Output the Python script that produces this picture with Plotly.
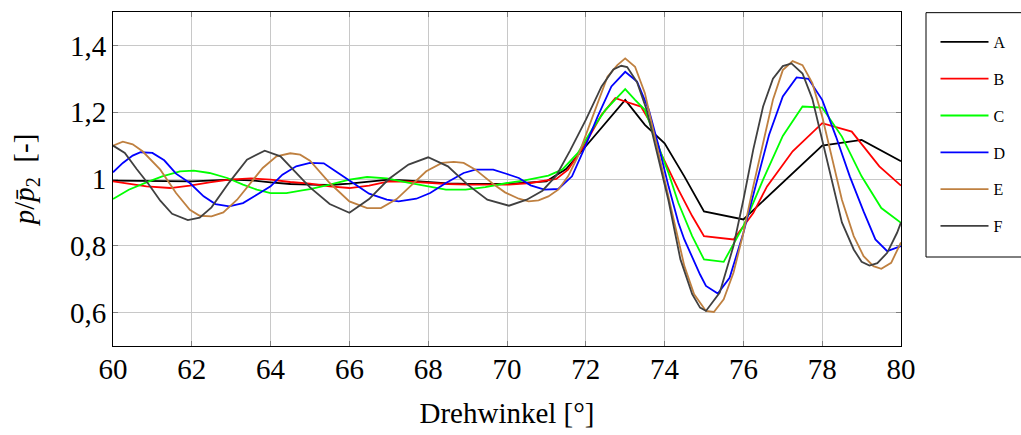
import plotly.graph_objects as go

# ---- data ----
x_A = [60.0, 61.0, 62.0, 63.0, 63.5, 64.0, 64.5, 65.0, 65.5, 66.0, 66.5, 67.0, 67.5, 68.0, 68.5, 69.0, 69.5, 70.0,
       71.0, 71.5, 72.0, 72.5, 73.0, 73.5, 74.0, 74.5, 75.0, 76.0, 78.0, 79.0, 80.0]
y_A = [0.995, 0.994, 0.993, 0.998, 0.996, 0.990, 0.985, 0.983, 0.982, 0.986, 0.993, 0.998, 0.995, 0.990, 0.987, 0.985, 0.986, 0.985,
       0.993, 1.030, 1.098, 1.167, 1.237, 1.162, 1.107, 1.008, 0.903, 0.879, 1.100, 1.117, 1.053]

x_B = [60.0, 60.4, 60.85, 61.45, 61.95, 62.45, 62.95, 63.5, 64.0, 64.5, 65.0, 65.5, 66.0, 66.5, 67.0, 67.5, 68.0, 68.5,
       69.05, 69.55, 70.05, 70.6, 71.25, 71.55, 71.95, 72.4, 72.75, 73.0, 73.4, 73.65, 73.9, 74.35, 74.7, 75.0,
       75.75, 76.25, 76.6, 77.25, 78.0, 78.75, 79.45, 80.0]
y_B = [0.993, 0.985, 0.978, 0.973, 0.980, 0.990, 0.998, 1.002, 0.998, 0.991, 0.986, 0.978, 0.973, 0.980, 0.993, 0.992, 0.988, 0.985,
       0.983, 0.982, 0.983, 0.988, 1.000, 1.028, 1.098, 1.192, 1.242, 1.232, 1.217, 1.167, 1.078, 0.968, 0.889, 0.829,
       0.819, 0.898, 0.978, 1.083, 1.167, 1.142, 1.038, 0.980]

x_C = [60.0, 60.4, 60.85, 61.25, 61.7, 62.05, 62.45, 62.9, 63.3, 63.65, 64.0, 64.4, 64.8, 65.0, 65.5, 66.0, 66.45, 66.95,
       67.45, 67.95, 68.45, 68.95, 69.45, 70.0, 70.45, 71.05, 71.4, 71.8, 72.15, 72.5, 72.75, 73.0, 73.25, 73.5,
       73.75, 74.1, 74.35, 74.7, 75.0, 75.5, 76.0, 76.5, 77.0, 77.5, 78.0, 78.5, 79.0, 79.5, 80.0]
y_C = [0.940, 0.968, 0.990, 1.008, 1.023, 1.025, 1.018, 1.003, 0.983, 0.968, 0.958, 0.958, 0.966, 0.970, 0.983, 0.998, 1.006, 1.002,
       0.990, 0.978, 0.968, 0.968, 0.976, 0.988, 0.996, 1.010, 1.028, 1.078, 1.147, 1.207, 1.237, 1.269, 1.237, 1.207,
       1.127, 1.018, 0.928, 0.829, 0.759, 0.752, 0.859, 0.998, 1.129, 1.217, 1.214, 1.127, 1.008, 0.913, 0.869]

x_D = [60.0, 60.25, 60.5, 60.7, 61.0, 61.3, 61.6, 61.95, 62.3, 62.6, 62.95, 63.3, 63.65, 64.0, 64.3, 64.65, 65.0, 65.35,
       65.65, 66.1, 66.5, 66.95, 67.25, 67.7, 68.05, 68.45, 68.9, 69.2, 69.65, 70.0, 70.3, 70.6, 70.95, 71.3, 71.65,
       71.95, 72.3, 72.65, 73.0, 73.3, 73.6, 73.85, 74.1, 74.35, 74.5, 74.9, 75.05, 75.35, 75.65, 76.0, 76.35, 76.65,
       77.0, 77.35, 77.65, 78.0, 78.35, 78.7, 79.05, 79.35, 79.65, 80.0]
y_D = [1.020, 1.048, 1.070, 1.080, 1.078, 1.056, 1.016, 0.988, 0.948, 0.925, 0.918, 0.928, 0.953, 0.978, 1.013, 1.038, 1.048, 1.047,
       1.023, 0.988, 0.956, 0.938, 0.933, 0.941, 0.958, 0.988, 1.018, 1.028, 1.028, 1.015, 1.003, 0.981, 0.968, 0.970, 1.008,
       1.088, 1.187, 1.277, 1.321, 1.292, 1.207, 1.098, 0.978, 0.869, 0.819, 0.714, 0.680, 0.657, 0.704, 0.839, 0.998, 1.132,
       1.247, 1.304, 1.300, 1.237, 1.127, 1.008, 0.903, 0.819, 0.784, 0.799]

x_E = [60.0, 60.25, 60.5, 60.75, 61.2, 61.6, 61.95, 62.2, 62.5, 62.8, 63.15, 63.5, 63.8, 64.15, 64.5, 64.75, 65.0, 65.5,
       66.0, 66.45, 66.8, 67.2, 67.55, 67.95, 68.35, 68.65, 68.9, 69.2, 69.65, 69.95, 70.3, 70.55, 70.8, 71.05, 71.3,
       71.55, 71.8, 72.05, 72.3, 72.55, 72.8, 73.0, 73.25, 73.5, 73.75, 74.0, 74.25, 74.5, 74.75, 74.9, 75.05, 75.25,
       75.5, 75.75, 76.0, 76.25, 76.5, 76.75, 77.0, 77.25, 77.5, 77.75, 78.0, 78.25, 78.5, 78.8, 79.05, 79.3, 79.5,
       79.75, 80.0]
y_E = [1.100, 1.112, 1.104, 1.083, 1.028, 0.958, 0.908, 0.890, 0.888, 0.900, 0.938, 0.988, 1.033, 1.068, 1.077, 1.073, 1.055, 0.988,
       0.933, 0.913, 0.913, 0.940, 0.978, 1.023, 1.048, 1.051, 1.048, 1.028, 0.985, 0.960, 0.941, 0.933, 0.936, 0.948, 0.968,
       1.008, 1.068, 1.147, 1.227, 1.306, 1.341, 1.361, 1.336, 1.257, 1.127, 0.998, 0.859, 0.740, 0.655, 0.630, 0.605, 0.602,
       0.640, 0.720, 0.839, 0.978, 1.107, 1.237, 1.326, 1.353, 1.341, 1.287, 1.187, 1.058, 0.938, 0.829, 0.769, 0.739, 0.731,
       0.749, 0.810]

x_F = [60.0, 60.3, 60.6, 60.9, 61.2, 61.5, 61.9, 62.2, 62.5, 62.95, 63.4, 63.85, 64.25, 64.65, 65.0, 65.5, 66.0, 66.5,
       67.0, 67.5, 68.0, 68.5, 69.0, 69.5, 70.05, 70.5, 70.9, 71.25, 71.6, 72.0, 72.4, 72.7, 72.9, 73.05, 73.3, 73.55,
       73.8, 74.1, 74.4, 74.7, 74.9, 75.05, 75.4, 75.75, 76.0, 76.25, 76.5, 76.75, 77.0, 77.22, 77.5, 77.75, 78.0, 78.25,
       78.5, 78.8, 79.0, 79.2, 79.4, 79.65, 79.9, 80.0]
y_F = [1.100, 1.078, 1.030, 0.985, 0.935, 0.896, 0.877, 0.884, 0.915, 0.990, 1.058, 1.085, 1.068, 1.018, 0.975, 0.925, 0.899, 0.940,
       1.000, 1.043, 1.065, 1.038, 0.983, 0.938, 0.920, 0.938, 0.965, 1.010, 1.085, 1.177, 1.277, 1.328, 1.339, 1.335, 1.290, 1.205,
       1.080, 0.935, 0.760, 0.655, 0.615, 0.605, 0.660, 0.800, 0.938, 1.088, 1.217, 1.300, 1.338, 1.346, 1.316, 1.240, 1.117, 0.990,
       0.870, 0.789, 0.752, 0.741, 0.748, 0.779, 0.839, 0.870]

names = ["A", "B", "C", "D", "E", "F"]
colors = ["#000000", "#ff0000", "#00ff00", "#0000ff", "#bf8040", "#404040"]
xs = [x_A, x_B, x_C, x_D, x_E, x_F]
ys = [y_A, y_B, y_C, y_D, y_E, y_F]

x_ticks = [60, 62, 64, 66, 68, 70, 72, 74, 76, 78, 80]
y_ticks = [0.6, 0.8, 1.0, 1.2, 1.4]
y_ticktext = ["0,6", "0,8", "1", "1,2", "1,4"]

FONT = "Liberation Serif"

fig = go.Figure()
for n, c, xv, yv in zip(names, colors, xs, ys):
    fig.add_trace(go.Scatter(x=xv, y=yv, mode="lines", name=n, legendgroup=n,
                             line=dict(color=c, width=1.8)))

axis_common = dict(showline=True, linecolor="black", linewidth=1, mirror="allticks",
                   ticks="inside", ticklen=5, tickcolor="#7f7f7f", tickwidth=1,
                   showgrid=True, gridcolor="#c8c8c8", gridwidth=1, zeroline=False,
                   tickfont=dict(family=FONT, size=29, color="black"))

fig.update_xaxes(range=[60, 80], tickvals=x_ticks, ticktext=[str(t) for t in x_ticks],
                 ticklabelstandoff=-3,
                 title=dict(text="Drehwinkel [°]", font=dict(family=FONT, size=29, color="black"), standoff=18),
                 **axis_common)
fig.update_yaxes(range=[0.5, 1.5], tickvals=y_ticks, ticktext=y_ticktext,
                 title=dict(text="<i>p</i>/<i>p\u0304</i><sub>2</sub>  [-]", font=dict(family=FONT, size=29, color="black"), standoff=26),
                 **axis_common)

# legend frame (extends past the right edge as in the reference)
fig.add_shape(type="rect", xref="paper", yref="paper",
              x0=(926 - 113) / 788, x1=1.25, y0=1 - (257 - 12) / 334, y1=0.998,
              line=dict(color="black", width=1), fillcolor="white", layer="below")

fig.update_layout(
    width=1021, height=435,
    margin=dict(l=113, r=120, t=12, b=89, autoexpand=False),
    paper_bgcolor="white", plot_bgcolor="white",
    showlegend=True,
    legend=dict(x=(935.5 - 113) / 788, y=1 - (25 - 12) / 334, xanchor="left", yanchor="top",
                borderwidth=0, bgcolor="rgba(0,0,0,0)",
                font=dict(family=FONT, size=16, color="black"),
                tracegroupgap=13, itemwidth=48),
)

fig.write_html("out.html")
